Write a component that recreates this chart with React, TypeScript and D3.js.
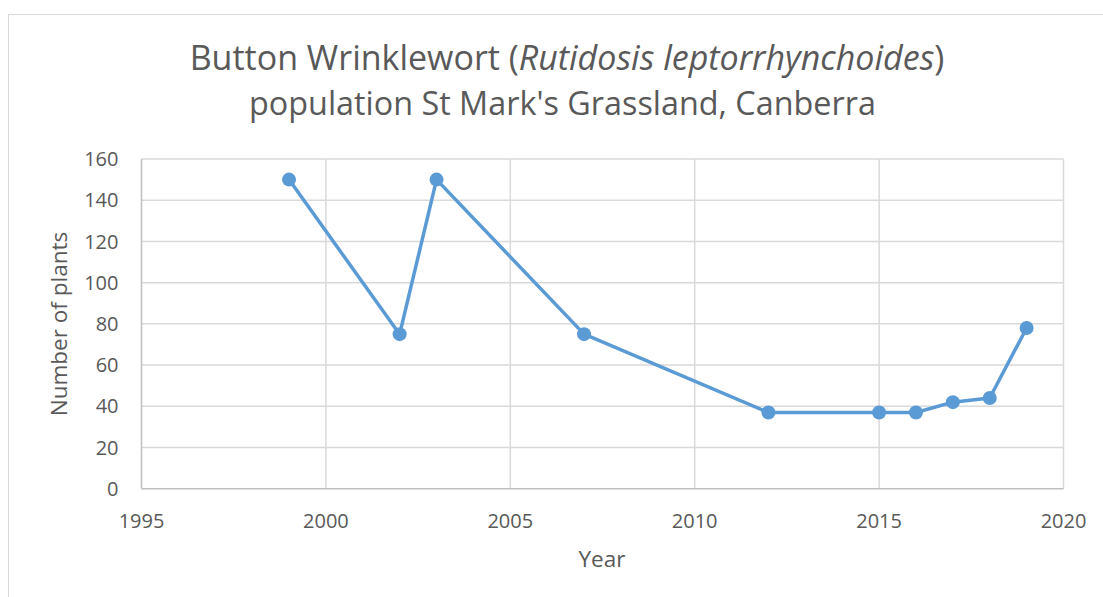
import React, { useRef, useEffect } from "react";
import * as d3 from "d3";

// data
const years: number[] = [1999, 2002, 2003, 2007, 2012, 2015, 2016, 2017, 2018, 2019];
const plants: number[] = [150, 75, 150, 75, 37, 37, 37, 42, 44, 78];
const xTicks: number[] = [1995, 2000, 2005, 2010, 2015, 2020];
const yTicks: number[] = [0, 20, 40, 60, 80, 100, 120, 140, 160];

const FONT = "'Open Sans', 'Noto Sans', sans-serif";
const TEXT = "#595959";

export default function App() {
  const svgRef = useRef<SVGSVGElement | null>(null);

  useEffect(() => {
    document.body.style.margin = "0";
    document.body.style.overflow = "hidden";

    const W = 1103;
    const H = 597;
    const margin = { top: 159, left: 141.5 };
    const width = 1063.5 - margin.left;
    const height = 488.7 - margin.top;

    const root = d3.select(svgRef.current);
    root.selectAll("*").remove();
    root.attr("width", W).attr("height", H);

    // chart frame
    root
      .append("rect")
      .attr("x", 8.5)
      .attr("y", 14.5)
      .attr("width", W + 20)
      .attr("height", H + 20)
      .attr("fill", "white")
      .attr("stroke", "#d9d9d9")
      .attr("stroke-width", 1);

    // title
    const title = root
      .append("text")
      .attr("x", 567)
      .attr("y", 70)
      .attr("text-anchor", "middle")
      .attr("fill", TEXT)
      .style("font-family", FONT)
      .style("font-size", "31px");
    title.append("tspan").text("Button Wrinklewort (");
    title.append("tspan").style("font-style", "italic").text("Rutidosis leptorrhynchoides");
    title.append("tspan").text(")");

    const title2 = root
      .append("text")
      .attr("x", 562.5)
      .attr("y", 115)
      .attr("text-anchor", "middle")
      .attr("fill", TEXT)
      .style("font-family", FONT)
      .style("font-size", "31px")
      .text("population St Mark's Grassland, Canberra");

    const g = root
      .append("g")
      .attr("transform", `translate(${margin.left},${margin.top})`);

    const x = d3.scaleLinear().domain([1995, 2020]).range([0, width]);
    const y = d3.scaleLinear().domain([0, 160]).range([height, 0]);

    // gridlines
    g.selectAll(".hgrid")
      .data(yTicks.filter((t) => t > 0))
      .join("line")
      .attr("x1", 0)
      .attr("x2", width)
      .attr("y1", (d) => y(d))
      .attr("y2", (d) => y(d))
      .attr("stroke", "#d9d9d9")
      .attr("stroke-width", 1.5);

    g.selectAll(".vgrid")
      .data(xTicks.filter((t) => t > 1995))
      .join("line")
      .attr("x1", (d) => x(d))
      .attr("x2", (d) => x(d))
      .attr("y1", 0)
      .attr("y2", height)
      .attr("stroke", "#d9d9d9")
      .attr("stroke-width", 1.5);

    // axis lines
    g.append("line")
      .attr("x1", 0)
      .attr("x2", width)
      .attr("y1", height)
      .attr("y2", height)
      .attr("stroke", "#bfbfbf")
      .attr("stroke-width", 1.5);
    g.append("line")
      .attr("x1", 0)
      .attr("x2", 0)
      .attr("y1", 0)
      .attr("y2", height)
      .attr("stroke", "#bfbfbf")
      .attr("stroke-width", 1.5);

    // tick labels
    g.selectAll(".ylab")
      .data(yTicks)
      .join("text")
      .attr("x", -23)
      .attr("y", (d) => y(d))
      .attr("dy", "0.36em")
      .attr("text-anchor", "end")
      .attr("fill", TEXT)
      .style("font-family", FONT)
      .style("font-size", "20px")
      .text((d) => d);

    g.selectAll(".xlab")
      .data(xTicks)
      .join("text")
      .attr("x", (d) => x(d))
      .attr("y", height + 39)
      .attr("text-anchor", "middle")
      .attr("fill", TEXT)
      .style("font-family", FONT)
      .style("font-size", "20px")
      .text((d) => d);

    // axis titles
    root
      .append("text")
      .attr("x", 602)
      .attr("y", 567)
      .attr("text-anchor", "middle")
      .attr("fill", TEXT)
      .style("font-family", FONT)
      .style("font-size", "22.5px")
      .text("Year");

    root
      .append("text")
      .attr("transform", "translate(67,324) rotate(-90)")
      .attr("text-anchor", "middle")
      .attr("fill", TEXT)
      .style("font-family", FONT)
      .style("font-size", "22.5px")
      .text("Number of plants");

    // series
    const pts = years.map((yr, i) => ({ yr, v: plants[i] }));
    const line = d3
      .line<{ yr: number; v: number }>()
      .x((d) => x(d.yr))
      .y((d) => y(d.v));

    g.append("path")
      .datum(pts)
      .attr("fill", "none")
      .attr("stroke", "#5b9bd5")
      .attr("stroke-width", 3.5)
      .attr("stroke-linejoin", "round")
      .attr("d", line);

    g.selectAll(".pt")
      .data(pts)
      .join("circle")
      .attr("cx", (d) => x(d.yr))
      .attr("cy", (d) => y(d.v))
      .attr("r", 7)
      .attr("fill", "#5b9bd5");

    // fit title widths to the reference
    const fit = (node: SVGTextElement | null, target: number) => {
      if (!node) return;
      const w = node.getComputedTextLength();
      if (w > 0) {
        d3.select(node).style("font-size", `${31 * (target / w)}px`);
      }
    };
    fit(title.node(), 755);
    fit(title2.node(), 627);
  }, []);

  return (
    <div>
      <svg ref={svgRef} style={{ display: "block" }} />
    </div>
  );
}
